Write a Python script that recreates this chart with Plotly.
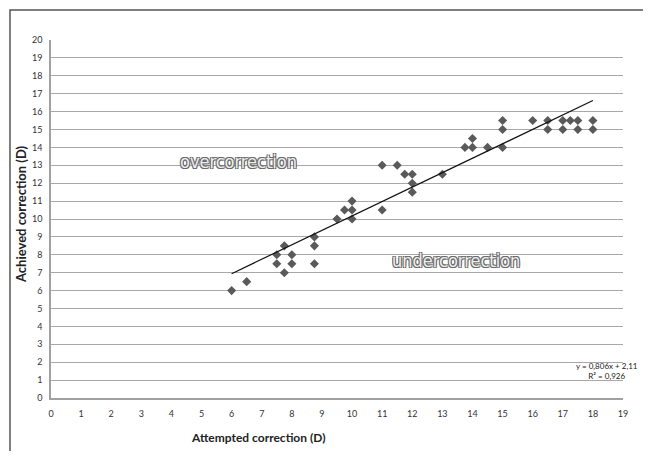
import plotly.graph_objects as go

# Data
attempted = [6, 6.5, 7.5, 7.5, 7.75, 7.75, 8, 8, 8.75, 8.75, 8.75, 9.5, 9.75,
             10, 10, 10, 11, 11, 11.5, 11.75, 12, 12, 12, 13, 13.75, 14, 14,
             14.5, 15, 15, 15, 16, 16.5, 16.5, 17, 17, 17.25, 17.5, 17.5, 18, 18]
achieved = [6, 6.5, 8, 7.5, 8.5, 7, 8, 7.5, 9, 8.5, 7.5, 10, 10.5,
            11, 10.5, 10, 13, 10.5, 13, 12.5, 12.5, 12, 11.5, 12.5, 14, 14, 14.5,
            14, 15.5, 15, 14, 15.5, 15.5, 15, 15.5, 15, 15.5, 15.5, 15, 15.5, 15]
slope = 0.806
intercept = 2.11
r2 = 0.926
x_ticks = list(range(0, 20))
y_ticks = list(range(0, 21))

OFF = 8  # page body margin
W, H = 651 - 2 * OFF, 459 - 2 * OFF
# target plot area in reference pixels: x 51..623, y 40..398
L, T = 51 - OFF, 40 - OFF
R = W - (623 - OFF)
B = H - (398 - OFF)
pw, ph = W - L - R, H - T - B

def px(xp):
    return (xp - OFF - L) / pw

def py(yp):
    return (H - B - (yp - OFF)) / ph

xs = [min(attempted), max(attempted)]
ys = [slope * v + intercept for v in xs]

fig = go.Figure()
fig.add_trace(go.Scatter(x=attempted, y=achieved, mode="markers",
                         marker=dict(symbol="diamond", size=7, color="#5a5a5a"),
                         showlegend=False))
fig.add_trace(go.Scatter(x=xs, y=ys, mode="lines",
                         line=dict(color="#111111", width=1.2), showlegend=False))

font_main = "Lato, 'Open Sans', sans-serif"
narrow = "'Liberation Sans Narrow', 'DejaVu Sans Condensed', sans-serif"
fig.update_layout(
    width=W, height=H,
    margin=dict(l=L, r=R, t=T, b=B, pad=0),
    paper_bgcolor="white", plot_bgcolor="white",
    font=dict(family=font_main, color="#333333", size=9),
    xaxis=dict(range=[0, 19], tickvals=x_ticks, showgrid=False, zeroline=False,
               showline=True, linecolor="#a0a0a0", linewidth=1.5,
               ticks="outside", ticklen=6, tickcolor="rgba(0,0,0,0)",
               tickfont=dict(size=9, color="#333333")),
    yaxis=dict(range=[0, 20], tickvals=y_ticks, showgrid=True, gridcolor="#a8a8a8",
               gridwidth=1.2, zeroline=False, showline=True, linecolor="#a0a0a0",
               linewidth=1.5, ticks="outside", ticklen=5, tickcolor="rgba(0,0,0,0)",
               tickfont=dict(size=9, color="#333333")),
    showlegend=False,
)

fig.add_annotation(text="<b>Attempted correction (D)</b>", xref="paper", yref="paper",
                   x=px(258), y=py(437), xanchor="center", yanchor="middle", showarrow=False,
                   font=dict(size=12, color="#222222", family=font_main))
fig.add_annotation(text="<b>Achieved correction (D)</b>", xref="paper", yref="paper",
                   x=px(21), y=py(214), xanchor="center", yanchor="middle",
                   showarrow=False, textangle=-90,
                   font=dict(size=13, color="#222222", family=font_main))

outline = "-1px -1px 0 #6a6a6a, 1px -1px 0 #6a6a6a, -1px 1px 0 #6a6a6a, 1px 1px 0 #6a6a6a"
fig.add_annotation(text="overcorrection", xref="paper", yref="paper",
                   x=px(238), y=py(161), xanchor="center", yanchor="middle", showarrow=False,
                   font=dict(size=18, color="#eeeeee", family=narrow, shadow=outline))
fig.add_annotation(text="undercorrection", xref="paper", yref="paper",
                   x=px(456), y=py(261), xanchor="center", yanchor="middle", showarrow=False,
                   font=dict(size=18, color="#eeeeee", family=narrow, shadow=outline))

eq = f"y = {str(slope).replace('.', ',')}x + {str(intercept).replace('.', ',')}<br>R² = {str(r2).replace('.', ',')}"
fig.add_annotation(text=eq, xref="paper", yref="paper", x=px(640), y=py(371),
                   xanchor="right", yanchor="middle",
                   showarrow=False, align="center",
                   font=dict(size=8, color="#222222", family=font_main))

fig.add_shape(type="rect", xref="paper", yref="paper",
              x0=px(10), x1=px(700), y0=py(520), y1=py(10),
              line=dict(color="#555555", width=1.5), fillcolor="rgba(0,0,0,0)",
              layer="below")

fig.write_html("out.html")
